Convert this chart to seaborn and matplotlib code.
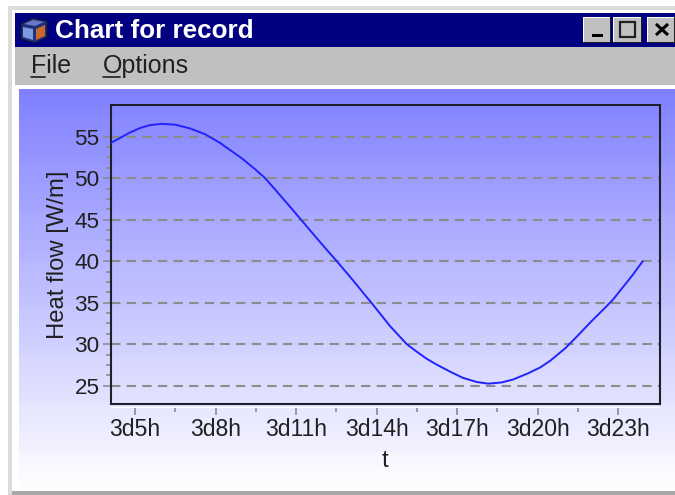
import numpy as np
import pandas as pd
import seaborn as sns
import matplotlib.pyplot as plt
from matplotlib.patches import Rectangle, Polygon

hours = [4.11, 4.44, 4.81, 5.19, 5.56, 6.0, 6.49, 7.05, 7.61, 8.17, 8.54, 8.98, 9.47, 9.85,
         10.22, 10.7, 11.11, 11.45, 11.82, 12.18, 12.52, 12.89, 13.2, 13.54, 13.82, 14.13,
         14.5, 15.13, 15.5, 15.87, 16.24, 16.74, 17.22, 17.74, 18.16, 18.67, 19.09, 19.65,
         20.1, 20.47, 21.03, 21.46, 21.96, 22.52, 22.82, 23.19, 23.56, 23.92]
heat = [54.28, 54.85, 55.5, 56.05, 56.4, 56.55, 56.45, 56.0, 55.3, 54.25, 53.4, 52.4, 51.1, 50.0,
        48.65, 46.85, 45.3, 44.0, 42.6, 41.25, 40.0, 38.6, 37.4, 36.05, 34.95, 33.7,
        32.2, 30.0, 29.1, 28.25, 27.55, 26.7, 25.95, 25.45, 25.25, 25.4, 25.75, 26.5,
        27.2, 28.0, 29.5, 30.9, 32.6, 34.4, 35.4, 36.9, 38.4, 40.0]
x_ticks = [5, 8, 11, 14, 17, 20, 23]
x_minor = [6.5, 9.5, 12.5, 15.5, 18.5, 21.5]
x_labels = ['3d5h', '3d8h', '3d11h', '3d14h', '3d17h', '3d20h', '3d23h']
y_ticks = [25, 30, 35, 40, 45, 50, 55]
y_minor = [26.25, 27.5, 28.75, 31.25, 32.5, 33.75, 36.25, 37.5, 38.75,
           41.25, 42.5, 43.75, 46.25, 47.5, 48.75, 51.25, 52.5, 53.75]

W, H = 675, 495
FONT = 'Liberation Sans'
sns.set_theme(style='white')
plt.rcParams['font.family'] = [FONT, 'DejaVu Sans']

fig = plt.figure(figsize=(W / 100, H / 100), dpi=100, facecolor='white')

# window chrome, in pixel coordinates
bg = fig.add_axes([0, 0, 1, 1])
bg.set_xlim(0, W)
bg.set_ylim(H, 0)
bg.axis('off')


def box(x0, y0, x1, y1, color, **kw):
    bg.add_patch(Rectangle((x0, y0), x1 - x0, y1 - y0, fc=color, ec='none', **kw))


box(8, 6, W, H, '#dcdcdc')
box(12, 10, W, H, 'white')
box(15, 47, W, 85, '#c0c0c0')
box(15, 13, W, 47, '#000080')
box(12, 491, W, H, '#a8a8a8')

# gradient panel, flat bands with dithered steps between them
rows, cols = 399, W - 19
v = np.linspace(0, 1, rows)[:, None] * np.ones((rows, cols))
steps = v * 8.3
frac = steps - np.floor(steps)
yy, xx = np.indices((rows, cols))
dots = ((xx // 2 + yy // 2) % 2 == 0) & (frac > 0.35) & (frac < 0.75)
level = (np.floor(steps) + (frac > 0.55) * 1.0 + dots * 0.35) / 8.3
smooth = 0.85 * v + 0.15 * level
img = np.ones((rows, cols, 3))
img[..., 0] = 0.5 + 0.5 * smooth
img[..., 1] = 0.5 + 0.5 * smooth
bg.imshow(img, extent=(19, W, 488, 89), aspect='auto', interpolation='bilinear', zorder=1)
bg.set_xlim(0, W)
bg.set_ylim(H, 0)

# title bar
bg.text(55, 38, 'Chart for record', color='white', fontsize=18.8, fontweight='bold',
        va='baseline', ha='left')
bg.add_patch(Polygon([(21, 24), (33, 18), (47, 21), (47, 37), (35, 43), (21, 39)], fc='#20307a', ec='#101040', lw=0.8))
bg.add_patch(Polygon([(23, 27), (33, 29), (33, 40), (23, 37)], fc='#7d9ae0', ec='none'))
bg.add_patch(Polygon([(36, 29), (45, 25), (45, 36), (36, 40)], fc='#c8682c', ec='none'))
bg.add_patch(Polygon([(24, 24), (33, 20), (44, 22), (35, 26)], fc='#6a78c0', ec='none'))

# window buttons
for x0, x1 in [(583, 611), (613, 642), (647, 675)]:
    box(x0, 17, x1, 43, '#202020')
    box(x0, 17, x1 - 1, 42, 'white')
    box(x0 + 1, 18, x1 - 1, 42, '#c0c0c0')
box(592, 34, 603, 37, 'black')
bg.add_patch(Rectangle((620, 22), 15, 15, fc='none', ec='#202020', lw=1.6))
bg.plot([656, 668], [24, 35], color='black', lw=2.2, solid_capstyle='butt')
bg.plot([668, 656], [24, 35], color='black', lw=2.2, solid_capstyle='butt')

# menu
bg.text(31, 73, 'File', color='#202020', fontsize=18, va='baseline')
bg.text(103, 73, 'Options', color='#202020', fontsize=18, va='baseline')
bg.plot([31, 45], [77, 77], color='#202020', lw=1.2)
bg.plot([103, 120], [77, 77], color='#202020', lw=1.2)

# chart
left, right, top, bottom = 110.7, 660, 105, 404
ax = fig.add_axes([left / W, 1 - bottom / H, (right - left) / W, (bottom - top) / H])
ax.patch.set_alpha(0)

df = pd.DataFrame({'t': hours, 'heat': heat})
ax.yaxis.grid(True, color='#8c8c8c', lw=1.5, dashes=(4.5, 3))
ax.set_axisbelow(True)
sns.lineplot(data=df, x='t', y='heat', color='#2222ff', lw=1.4, ax=ax, zorder=3)

ax.set_xlim(4.094, 24.565)
ax.set_ylim(22.8, 58.82)
for s in ax.spines.values():
    s.set_visible(True)
    s.set_color('#20202c')
    s.set_linewidth(1.5)

ax.set_yticks(y_ticks)
ax.set_yticks(y_minor, minor=True)
ax.tick_params(axis='y', which='major', left=True, length=5.8, width=1.2, color='#8c8c8c',
               labelsize=16.2, labelcolor='#202020', pad=2.2)
ax.tick_params(axis='y', which='minor', left=True, length=3.5, width=1.2, color='#8c8c8c')
ax.set_xticks([])
ax.set_ylabel('Heat flow [W/m]', fontsize=17.2, color='#202020', labelpad=4)
ax.set_xlabel('t', fontsize=17.2, color='#202020', labelpad=33)

# x ticks sit a little below the frame
sec = ax.secondary_xaxis(-3.5 / (bottom - top))
sec.spines['bottom'].set_visible(False)
sec.set_xticks(x_ticks)
sec.set_xticklabels(x_labels)
sec.set_xticks(x_minor, minor=True)
sec.tick_params(axis='x', which='major', bottom=True, length=5.2, width=1.2, color='#8c8c8c',
                labelsize=16.6, labelcolor='#202020', pad=2.5)
sec.tick_params(axis='x', which='minor', bottom=True, length=2.6, width=1.2, color='#8c8c8c')

fig.savefig('out.png', dpi=100)
